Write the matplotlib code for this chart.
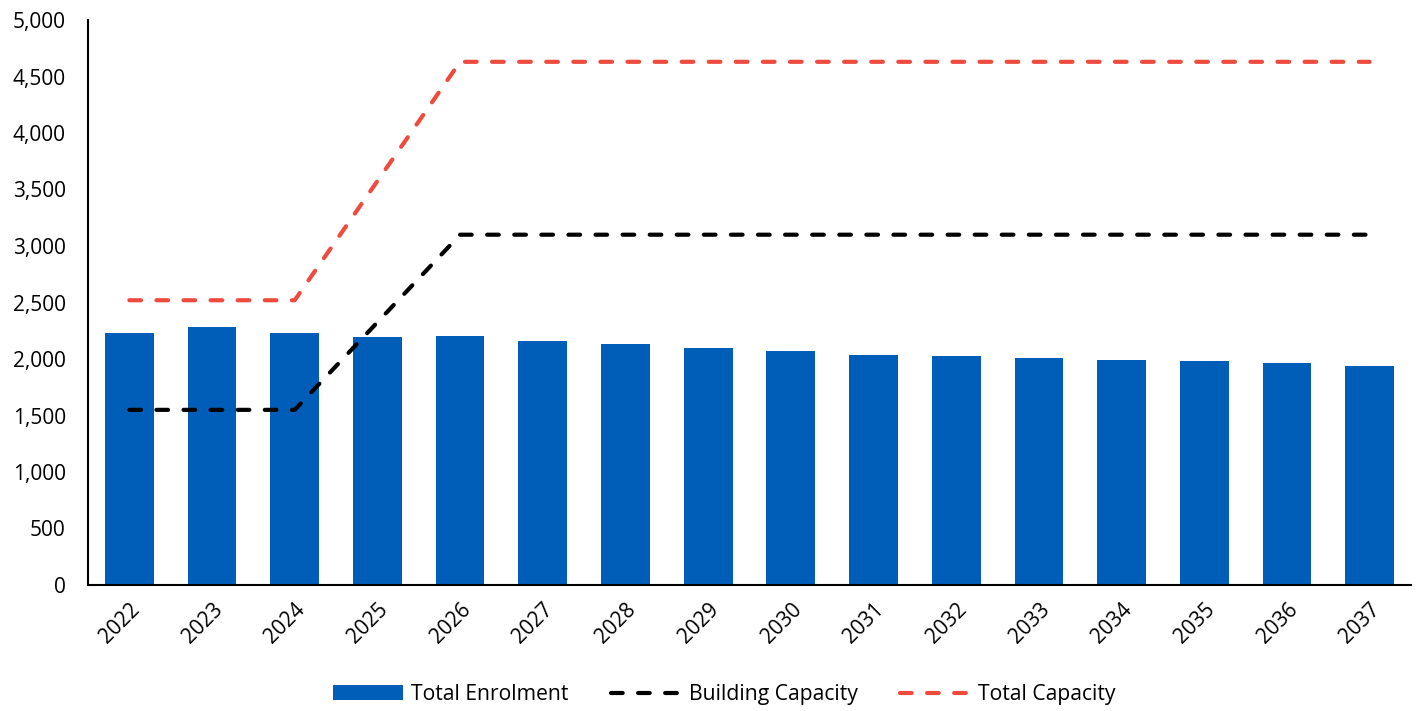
import matplotlib
matplotlib.use("Agg")
import matplotlib.pyplot as plt
from matplotlib.ticker import FuncFormatter

plt.rcParams['font.family'] = ['Open Sans', 'DejaVu Sans']

years = ['2022', '2023', '2024', '2025', '2026', '2027', '2028', '2029',
         '2030', '2031', '2032', '2033', '2034', '2035', '2036', '2037']
enrolment = [2230, 2283, 2230, 2195, 2204, 2159, 2133, 2097,
             2071, 2035, 2027, 2009, 1991, 1982, 1965, 1938]
building_capacity = [1550, 1550, 1550, 2325, 3100, 3100, 3100, 3100,
                     3100, 3100, 3100, 3100, 3100, 3100, 3100, 3100]
total_capacity = [2520, 2520, 2520, 3575, 4630, 4630, 4630, 4630,
                  4630, 4630, 4630, 4630, 4630, 4630, 4630, 4630]

blue = '#005EB8'
red = '#EE4B3E'

fig = plt.figure(figsize=(14.17, 7.11), dpi=100)
ax = fig.add_axes([88 / 1417, 1 - 585 / 711, (1411 - 88) / 1417, (585 - 20) / 711])

x = list(range(len(years)))
bars = ax.bar(x, enrolment, width=0.59, color=blue, label='Total Enrolment', zorder=2)
l1, = ax.plot(x, building_capacity, color='black', lw=3, ls=(0, (2.8, 3.7)),
              dash_capstyle='round', label='Building Capacity', zorder=3)
l2, = ax.plot(x, total_capacity, color=red, lw=3, ls=(0, (2.8, 3.7)),
              dash_capstyle='round', label='Total Capacity', zorder=3)

ax.set_xlim(-0.5, len(years) - 0.5)
ax.set_ylim(0, 5000)
ax.set_yticks(range(0, 5001, 500))
ax.yaxis.set_major_formatter(FuncFormatter(lambda v, p: f'{int(v):,}'))
ax.set_xticks(x)
ax.set_xticklabels(years, rotation=45, ha='right', rotation_mode='anchor')
ax.tick_params(axis='both', length=0, labelsize=15, colors='black')
ax.tick_params(axis='y', pad=16)
ax.tick_params(axis='x', pad=10)

for s in ['top', 'right']:
    ax.spines[s].set_visible(False)
for s in ['left', 'bottom']:
    ax.spines[s].set_color('black')
    ax.spines[s].set_linewidth(1.5)

ax.legend([bars, l1, l2], ['Total Enrolment', 'Building Capacity', 'Total Capacity'],
          loc='center', bbox_to_anchor=(0.481, -0.194), ncol=3, frameon=False,
          fontsize=15.2, handlelength=3.3, handletextpad=0.4, columnspacing=2)

fig.savefig('out.png', dpi=100)
